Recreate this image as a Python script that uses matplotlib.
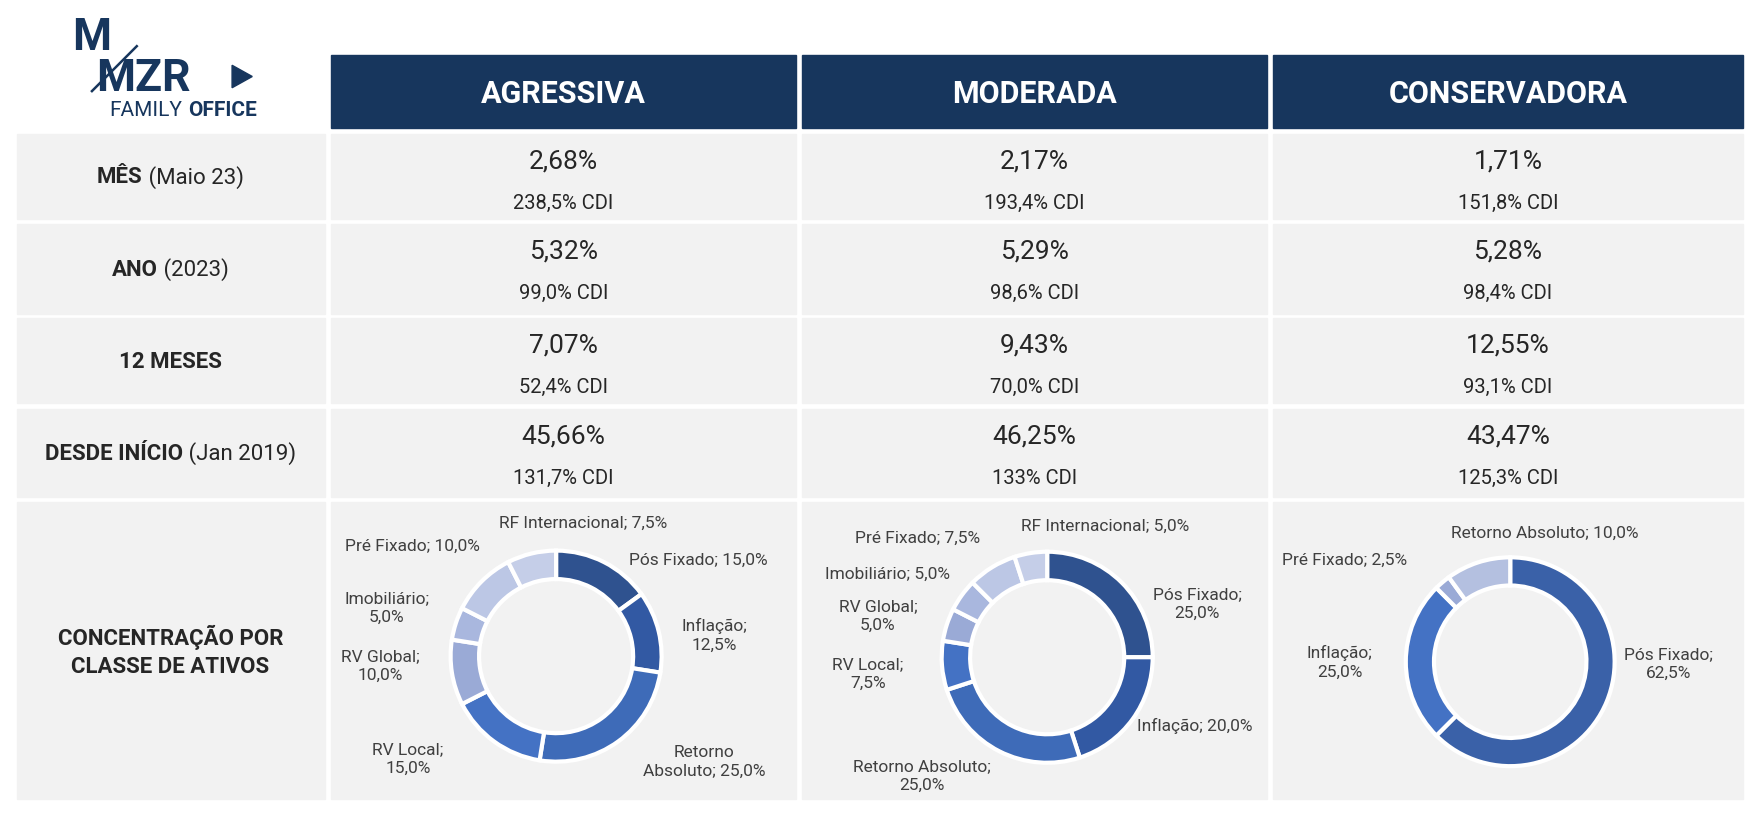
import matplotlib.pyplot as plt
from matplotlib.patches import Rectangle, Polygon

plt.rcParams['font.family'] = ['Roboto', 'DejaVu Sans']

NAVY = '#17365d'
GRAY = '#f2f2f2'
TXT = '#262626'

profiles = ['AGRESSIVA', 'MODERADA', 'CONSERVADORA']
row_bold = ['MÊS', 'ANO', '12 MESES', 'DESDE INÍCIO']
row_rest = [' (Maio 23)', ' (2023)', '', ' (Jan 2019)']
returns = [['2,68%', '2,17%', '1,71%'],
           ['5,32%', '5,29%', '5,28%'],
           ['7,07%', '9,43%', '12,55%'],
           ['45,66%', '46,25%', '43,47%']]
cdi = [['238,5% CDI', '193,4% CDI', '151,8% CDI'],
       ['99,0% CDI', '98,6% CDI', '98,4% CDI'],
       ['52,4% CDI', '70,0% CDI', '93,1% CDI'],
       ['131,7% CDI', '133% CDI', '125,3% CDI']]

# allocation, clockwise from top
agr_names = ['Pós Fixado', 'Inflação', 'Retorno Absoluto', 'RV Local', 'RV Global',
             'Imobiliário', 'Pré Fixado', 'RF Internacional']
agr_vals = [15.0, 12.5, 25.0, 15.0, 10.0, 5.0, 10.0, 7.5]
mod_names = agr_names
mod_vals = [25.0, 20.0, 25.0, 7.5, 5.0, 5.0, 7.5, 5.0]
con_names = ['Pós Fixado', 'Inflação', 'Pré Fixado', 'Retorno Absoluto']
con_vals = [62.5, 25.0, 2.5, 10.0]

pal8 = ['#2f528f', '#3259a3', '#3e6bb8', '#4472c4', '#9aaad6', '#a9b7de', '#bcc7e5', '#c5cee8']
pal4 = ['#3a61a8', '#4472c4', '#9aaad6', '#b4c0e0']

# label texts and positions (display px of a 1568x730 layout)
agr_labels = [('Pós Fixado; 15,0%', 623, 499), ('Inflação;\n12,5%', 637, 566),
              ('Retorno\nAbsoluto; 25,0%', 628, 678), ('RV Local;\n15,0%', 364, 676),
              ('RV Global;\n10,0%', 339, 593), ('Imobiliário;\n5,0%', 345, 541),
              ('Pré Fixado; 10,0%', 368, 486), ('RF Internacional; 7,5%', 520, 466)]
mod_labels = [('Pós Fixado;\n25,0%', 1068, 538), ('Inflação; 20,0%', 1066, 646),
              ('Retorno Absoluto;\n25,0%', 822, 691), ('RV Local;\n7,5%', 774, 600),
              ('RV Global;\n5,0%', 783, 548), ('Imobiliário; 5,0%', 792, 511),
              ('Pré Fixado; 7,5%', 818, 479), ('RF Internacional; 5,0%', 986, 469)]
con_labels = [('Pós Fixado;\n62,5%', 1488, 591), ('Inflação;\n25,0%', 1195, 590),
              ('Pré Fixado; 2,5%', 1199, 499), ('Retorno Absoluto; 10,0%', 1378, 475)]

W, H = 1568, 730
fig = plt.figure(figsize=(17.58, 8.2), dpi=100)
ax = fig.add_axes([0, 0, 1, 1])
ax.set_xlim(0, W)
ax.set_ylim(H, 0)
ax.axis('off')
renderer = fig.canvas.get_renderer()

cols = [(295, 710), (715, 1130), (1135, 1555)]
rows = [(120, 196), (200, 280), (284, 360), (365, 443), (448, 712)]

for (x0, x1), name in zip(cols, profiles):
    ax.add_patch(Rectangle((x0, 50), x1 - x0, 65, color=NAVY))
    ax.text((x0 + x1) / 2, 84, name, color='white', fontsize=22, fontweight='bold',
            ha='center', va='center')

for (y0, y1) in rows:
    ax.add_patch(Rectangle((15, y0), 275, y1 - y0, color=GRAY))
    for (x0, x1) in cols:
        ax.add_patch(Rectangle((x0, y0), x1 - x0, y1 - y0, color=GRAY))


def width_of(s, **kw):
    t = ax.text(0, 0, s, **kw)
    bb = t.get_window_extent(renderer)
    t.remove()
    return (bb.x1 - bb.x0) * W / fig.bbox.width


for i, (y0, y1) in enumerate(rows[:4]):
    yc = (y0 + y1) / 2
    wb = width_of(row_bold[i], fontsize=16, fontweight='bold')
    wr = width_of(row_rest[i], fontsize=16) if row_rest[i] else 0
    xl = 152 - (wb + wr) / 2
    ax.text(xl, yc, row_bold[i], fontsize=16, fontweight='bold', color=TXT,
            ha='left', va='center')
    if row_rest[i]:
        ax.text(xl + wb, yc, row_rest[i], fontsize=16, color=TXT, ha='left', va='center')
    for j, (x0, x1) in enumerate(cols):
        xc = (x0 + x1) / 2
        ax.text(xc, y0 + 24, returns[i][j], fontsize=19, color=TXT, ha='center', va='center')
        ax.text(xc, y0 + 61, cdi[i][j], fontsize=14.5, color=TXT, ha='center', va='center')

ax.text(152, 580, 'CONCENTRAÇÃO POR\nCLASSE DE ATIVOS', fontsize=16, fontweight='bold',
        color=TXT, ha='center', va='center', linespacing=1.4)

# logo
ax.text(64, 34, 'M', fontsize=32, fontweight='bold', color=NAVY, ha='left', va='center')
ax.text(86, 70, 'MZR', fontsize=32, fontweight='bold', color=NAVY, ha='left', va='center')
ax.plot([82, 122], [82, 42], color=NAVY, lw=1.8)
ax.add_patch(Polygon([[207, 59], [207, 79], [225, 69]], color=NAVY))
ax.text(97, 98, 'FAMILY', fontsize=15, color=NAVY, ha='left', va='center')
ax.text(168, 98, 'OFFICE', fontsize=15, fontweight='bold', color=NAVY, ha='left', va='center')

donuts = [(496, 585, 96, agr_vals, pal8), (934, 586, 96, mod_vals, pal8),
          (1347, 590, 95, con_vals, pal4)]
for cx, cy, r, vals, colors in donuts:
    s = 2 * r / W
    axp = fig.add_axes([cx / W - s / 2, 1 - cy / H - (2 * r / H) / 2, s, 2 * r / H])
    axp.pie(vals, colors=colors, startangle=90, counterclock=False,
            wedgeprops=dict(width=0.27, edgecolor='white', linewidth=3))
    axp.set_xlim(-1.02, 1.02)
    axp.set_ylim(-1.02, 1.02)
    axp.set_aspect('equal')

# labels on a transparent overlay so they sit above the rings
top = fig.add_axes([0, 0, 1, 1])
top.set_xlim(0, W)
top.set_ylim(H, 0)
top.axis('off')
for txt, x, y in agr_labels + mod_labels + con_labels:
    top.text(x, y, txt, fontsize=12.5, color='#404040', ha='center', va='center',
             linespacing=1.3)

fig.savefig('out.png', dpi=100, facecolor='white')
